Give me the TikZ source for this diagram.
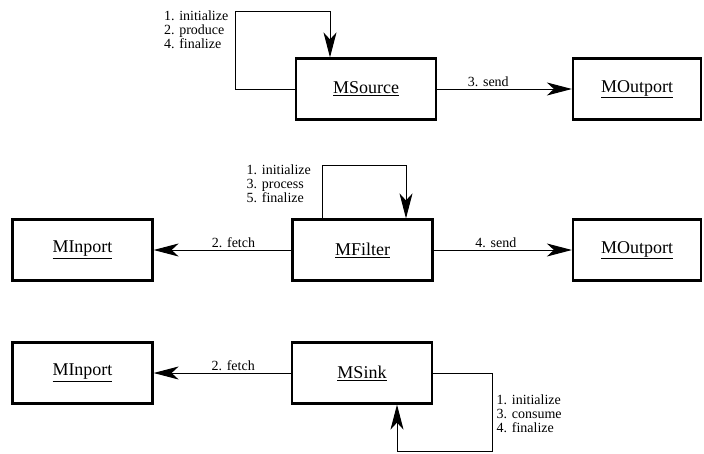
\documentclass[tikz,border=0pt]{standalone}
\usepackage{fontspec}
\setmainfont{Liberation Serif}
\usetikzlibrary{arrows.meta}
\begin{document}
\begin{tikzpicture}[x=1pt,y=-1pt,
  obj/.style={draw,line width=2.2pt,minimum width=140pt,minimum height=61pt,
    inner sep=0pt,font=\fontsize{18}{20}\selectfont},
  msg/.style={line width=1pt,-{Stealth[length=25pt,width=13pt,inset=7pt]}},
  lbl/.style={font=\fontsize{14}{14}\selectfont,inner sep=1.5pt},
  steps/.style={lbl,align=left}]
\useasboundingbox (0,0) rectangle (704,453);

% objects
\node[obj] (src)  at (366,89)   {\underline{MSource}};
\node[obj,minimum width=128pt] (out1) at (637,89) {\underline{MOutport}};

\node[obj] (in2)  at (82.5,250) {\underline{MInport}};
\node[obj] (flt)  at (362.5,250) {\underline{MFilter}};
\node[obj,minimum width=128pt] (out2) at (637,250) {\underline{MOutport}};

\node[obj] (in3)  at (82.5,373) {\underline{MInport}};
\node[obj] (snk)  at (362,373)  {\underline{MSink}};

% messages between objects
\draw[msg] (src) -- node[lbl,above,pos=0.38] {3. send} (out1);
\draw[msg] (flt) -- node[lbl,above,pos=0.42] {2. fetch} (in2);
\draw[msg] (flt) -- node[lbl,above,pos=0.45] {4. send} (out2);
\draw[msg] (snk) -- node[lbl,above,pos=0.42] {2. fetch} (in3);

% self calls
\coordinate (srcloop) at (235,11);
\draw[msg] (src.west) -| (srcloop) -| ([xshift=-36pt]src.north);
\node[steps,anchor=north east] (srcsteps) at (230,9)
  {1. initialize\\2. produce\\4. finalize};

\coordinate (fltloop) at (322,165);
\draw[msg] ([xshift=-40.5pt]flt.north) |- (fltloop) -| ([xshift=43.5pt]flt.north);
\node[steps,anchor=north west] (fltsteps) at (245,163)
  {1. initialize\\3. process\\5. finalize};

\coordinate (snkloop) at (492,451);
\draw[msg] (snk.east) -| (snkloop) -| ([xshift=35pt]snk.south);
\node[steps,anchor=north west] (snksteps) at (495,393)
  {1. initialize\\3. consume\\4. finalize};
\end{tikzpicture}
\end{document}
